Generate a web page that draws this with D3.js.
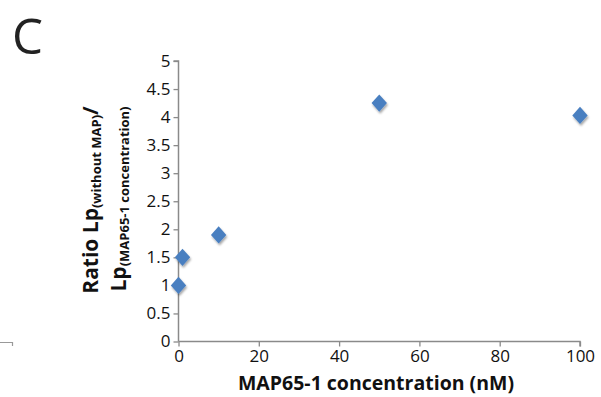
<!DOCTYPE html>
<html><head><meta charset="utf-8">
<script src="https://cdn.jsdelivr.net/npm/d3@7"></script>
<style>
html,body{margin:0;padding:0;background:#fff;}
text{font-family:"Open Sans","DejaVu Sans",sans-serif;}
</style></head>
<body><svg id="c" width="601" height="397"></svg>
<script>
const concentration = [0, 1, 10, 50, 100];
const ratio = [1.0, 1.5, 1.9, 4.25, 4.03];
const xTicks = [0, 20, 40, 60, 80, 100];
const yTicks = [0, 0.5, 1, 1.5, 2, 2.5, 3, 3.5, 4, 4.5, 5];

const svg = d3.select("#c");
const x = d3.scaleLinear().domain([0, 100]).range([178.5, 580]);
const y = d3.scaleLinear().domain([0, 5]).range([341.5, 61]);
const axisColor = "#8a8a8a";

const defs = svg.append("defs");
const f = defs.append("filter").attr("id","sh").attr("x","-50%").attr("y","-50%").attr("width","200%").attr("height","200%");
f.append("feDropShadow").attr("dx",1).attr("dy",2).attr("stdDeviation",1.2).attr("flood-color","#000").attr("flood-opacity",0.35);

// panel letter
svg.append("text").attr("x", 12).attr("y", 54)
  .attr("font-family",'"Liberation Sans",sans-serif').attr("font-size", 50).attr("font-weight", 400)
  .attr("textLength", 31).attr("lengthAdjust","spacingAndGlyphs")
  .attr("fill", "#222").text("C");

// stray mark bottom-left
svg.append("path").attr("d","M0,342.5H12.5V346").attr("fill","none").attr("stroke","#999").attr("stroke-width",1.2);

// y axis
const ya = svg.append("g").attr("transform", `translate(${x(0)},0)`)
  .call(d3.axisLeft(y).tickValues(yTicks).tickFormat(d3.format("")).tickSize(5).tickPadding(3));
// x axis
const xa = svg.append("g").attr("transform", `translate(0,${y(0)})`)
  .call(d3.axisBottom(x).tickValues(xTicks).tickSize(5).tickPadding(3));
[ya, xa].forEach(g => {
  g.selectAll("path").attr("stroke", axisColor).attr("stroke-width", 1.5);
  g.selectAll("line").attr("stroke", axisColor).attr("stroke-width", 1.3);
  g.selectAll("text").attr("font-size", 17).attr("fill", "#111").attr("font-family", '"Open Sans",sans-serif');
});
ya.select(".domain").attr("d", `M-5,${y(5)}H0V${y(0)}`);
xa.select(".domain").attr("d", `M${x(0)},0H${x(100)}V5`);

// x title
svg.append("text").attr("x", 376).attr("y", 390).attr("text-anchor","middle")
  .attr("font-size", 19.5).attr("font-weight", 700).attr("fill","#111")
  .text("MAP65-1 concentration (nM)");

// y title (two lines)
const t1 = svg.append("text").attr("transform","translate(98,200) rotate(-90)").attr("text-anchor","middle")
  .attr("font-weight",700).attr("fill","#111").attr("font-size",21);
t1.append("tspan").text("Ratio Lp");
t1.append("tspan").attr("font-size",13).attr("dy",3).text("(without MAP)");
t1.append("tspan").attr("dy",-3).text("/");
const t2 = svg.append("text").attr("transform","translate(126,199) rotate(-90)").attr("text-anchor","middle")
  .attr("font-weight",700).attr("fill","#111").attr("font-size",21);
t2.append("tspan").text("Lp");
t2.append("tspan").attr("font-size",13).attr("dy",3).text("(MAP65-1 concentration)");

// points (diamond markers)
const diamondType = { draw(ctx, size) { const h = Math.sqrt(size) * 0.75, w = h * 0.9;
  ctx.moveTo(0, -h); ctx.lineTo(w, 0); ctx.lineTo(0, h); ctx.lineTo(-w, 0); ctx.closePath(); } };
const diamond = d3.symbol().type(diamondType).size(130);
svg.append("g").selectAll("path").data(concentration.map((c,i)=>[c, ratio[i]])).join("path")
  .attr("transform", d => `translate(${x(d[0])},${y(d[1])})`)
  .attr("d", diamond).attr("fill", "#4a7fc0").attr("filter","url(#sh)");
</script></body></html>
